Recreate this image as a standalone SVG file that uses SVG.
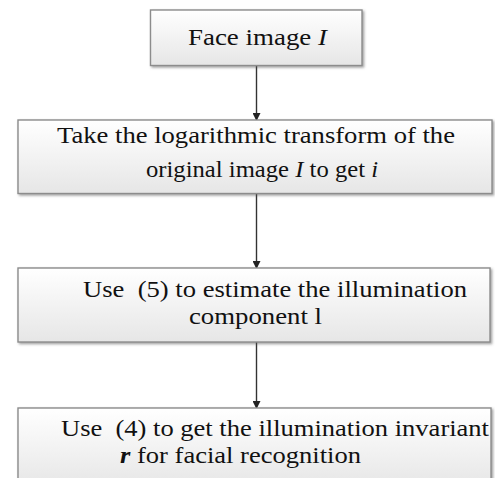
<svg xmlns="http://www.w3.org/2000/svg" width="495" height="478" viewBox="0 0 495 478">
<style>
.box{fill:url(#g);stroke:#8c8c8c;stroke-width:1.4;filter:url(#sh)}
.t{font-family:'Liberation Serif','Times New Roman',Times,serif;font-size:23px;fill:#111}
.c{stroke:#333;stroke-width:1.4;fill:none;marker-end:url(#ah)}
</style>
<defs>
<linearGradient id="g" x1="0" y1="0" x2="0" y2="1">
<stop offset="0" stop-color="#ffffff"/>
<stop offset="1" stop-color="#e6e6e6"/>
</linearGradient>
<filter id="sh" x="-5%" y="-10%" width="115%" height="130%">
<feDropShadow dx="1.5" dy="1.5" stdDeviation="0.8" flood-color="#555" flood-opacity="0.55"/>
</filter>
<marker id="ah" markerWidth="8" markerHeight="8" refX="7" refY="4" orient="auto" markerUnits="userSpaceOnUse">
<path d="M0,0 L8,4 L0,8 Z" fill="#222"/>
</marker>
</defs>
<g id="connectors">
<line class="c" x1="256.5" y1="66" x2="256.5" y2="120"/>
<line class="c" x1="256.5" y1="194" x2="256.5" y2="268"/>
<line class="c" x1="256.5" y1="342" x2="256.5" y2="408"/>
</g>
<g id="n1">
<rect class="box" x="150.5" y="10" width="211.5" height="55.5"/>
<text class="t" font-family="Liberation Serif" x="188" y="44.5" textLength="139" lengthAdjust="spacingAndGlyphs">Face image <tspan font-style="italic">I</tspan></text>
</g>
<g id="n2">
<rect class="box" x="18" y="120" width="474" height="73.5"/>
<text class="t" font-family="Liberation Serif" x="57" y="143" textLength="398" lengthAdjust="spacingAndGlyphs">Take the logarithmic transform of the</text>
<text class="t" font-family="Liberation Serif" x="146" y="177" textLength="232" lengthAdjust="spacingAndGlyphs">original image <tspan font-style="italic">I</tspan> to get <tspan font-style="italic">i</tspan></text>
</g>
<g id="n3">
<rect class="box" x="18" y="268" width="472" height="74"/>
<text class="t" font-family="Liberation Serif" xml:space="preserve" x="83" y="297" textLength="384" lengthAdjust="spacingAndGlyphs">Use  (5) to estimate the illumination</text>
<text class="t" font-family="Liberation Serif" x="189" y="324" textLength="133" lengthAdjust="spacingAndGlyphs">component l</text>
</g>
<g id="n4">
<rect class="box" x="18" y="408" width="473" height="80"/>
<text class="t" font-family="Liberation Serif" xml:space="preserve" x="61" y="436" textLength="428" lengthAdjust="spacingAndGlyphs">Use  (4) to get the illumination invariant</text>
<text class="t" font-family="Liberation Serif" x="120" y="463" textLength="241" lengthAdjust="spacingAndGlyphs"><tspan font-style="italic" font-weight="bold">r</tspan> for facial recognition</text>
</g>
</svg>
